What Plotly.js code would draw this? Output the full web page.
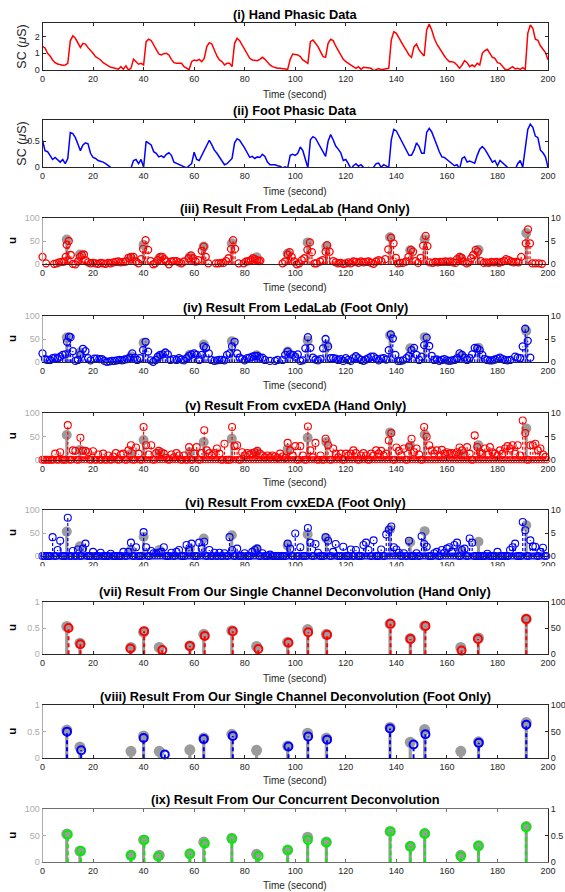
<!DOCTYPE html>
<html><head><meta charset="utf-8">
<script src="https://cdn.plot.ly/plotly-3.0.1.min.js"></script>
<style>html,body{margin:0;padding:0;background:#fff}#chart{width:565px;height:892px}</style>
</head><body><div id="chart"></div>
<script>
// ---------------- DATA ----------------
// phasic signals, sampled each second 0..200 s
const phasicTime = [...Array(201).keys()];
const handPhasic = [
1.42,1.32,1.0,0.84,0.6,0.44,0.36,0.32,0.28,0.3,0.4,1.75,2.05,1.9,1.6,1.35,1.6,1.55,1.34,1.2,1.0,
0.8,0.72,0.6,0.44,0.34,0.24,0.16,0.14,0.1,0.05,0.2,0.05,0.25,0.0,0.1,0.65,0.5,0.35,0.4,0.3,
1.7,1.85,1.77,1.5,1.16,0.96,0.9,0.98,1.0,0.9,0.64,0.44,0.4,0.38,0.4,0.2,0.1,0.02,0.5,0.6,
0.56,0.64,0.5,0.7,1.4,1.64,1.56,1.2,0.84,0.6,0.5,0.3,0.4,0.4,0.2,1.6,1.9,1.76,1.5,1.2,
0.9,0.7,0.6,0.56,0.56,0.64,0.76,0.64,0.44,0.3,0.2,0.14,0.1,0.1,0.1,0.06,0.04,0.64,0.96,0.94,
0.9,0.8,0.6,0.5,0.4,1.7,1.8,1.6,1.4,1.1,0.8,0.76,1.6,1.84,1.76,1.44,1.2,0.9,0.64,0.5,
0.4,0.3,0.2,0.1,0.2,0.04,0.16,0.14,0.14,0.1,-0.04,0.04,0.08,0.02,0.04,0.06,0.1,1.8,2.3,2.2,
1.9,1.64,1.4,1.16,0.9,0.76,1.4,1.55,1.2,1.0,0.84,2.4,2.75,2.4,1.9,1.56,1.3,1.04,0.84,0.64,
0.5,0.5,0.44,0.3,0.1,0.3,0.56,0.44,0.2,0.3,0.2,0.4,0.3,1.0,1.16,1.24,1.0,0.76,0.7,0.44,
0.4,0.24,0.04,0.0,0.1,0.2,0.06,0.1,0.04,0.14,0.04,2.2,2.7,2.5,1.85,1.78,1.45,1.25,1.05,0.62];
const footPhasic = [
0.52,0.32,0.3,0.23,0.15,0.19,0.15,0.1,0.15,0.07,0.17,0.67,0.65,0.57,0.45,0.32,0.43,0.47,0.45,0.27,0.19,
0.17,0.13,0.12,0.1,0.07,0.03,0.0,-0.05,-0.1,-0.15,-0.15,-0.12,-0.1,-0.08,-0.02,0.13,0.15,0.07,0.15,0.0,
0.5,0.47,0.43,0.3,0.27,0.2,0.22,0.19,0.25,0.28,0.23,0.1,0.08,0.05,0.03,0.02,-0.01,0.03,0.07,0.29,
0.15,0.13,0.23,0.33,0.43,0.52,0.43,0.33,0.27,0.2,0.13,0.05,0.07,0.13,0.17,0.47,0.55,0.52,0.45,0.37,
0.28,0.19,0.21,0.17,0.2,0.19,0.25,0.21,0.1,0.05,0.05,0.05,0.03,0.02,-0.01,0.01,-0.01,0.23,0.25,0.23,
0.27,0.39,0.32,0.13,-0.01,0.53,0.59,0.56,0.47,0.37,0.27,0.21,0.5,0.63,0.53,0.41,0.35,0.28,0.13,0.15,
0.07,-0.03,0.03,0.07,0.02,0.05,0.0,-0.03,0.0,-0.03,0.0,0.07,0.08,0.0,0.05,0.03,0.0,0.53,0.73,0.7,
0.6,0.5,0.4,0.3,0.23,0.23,0.33,0.47,0.4,0.27,0.27,0.67,0.75,0.68,0.57,0.43,0.3,0.2,0.19,0.15,
0.1,0.07,0.03,0.05,-0.03,0.17,0.2,0.1,0.12,0.1,0.08,0.23,0.35,0.4,0.35,0.27,0.17,0.1,0.13,0.03,
0.13,0.08,0.03,0.0,-0.03,-0.05,-0.05,0.07,0.13,0.0,0.33,0.73,0.83,0.77,0.6,0.57,0.33,0.28,0.2,0.0];

// ground-truth impulses (grey), scale 0..100
const truthTime = [9.6,14.8,35,40,46.2,58.3,63.8,74.9,84.7,97,104.9,112.3,137.5,145.5,151.2,165.5,172.5,191.4];
const truthAmp  = [53,21,13,42,13,16,38,45,15,23,47,38,58,30,54,13,31,67];

// (iii) LedaLab hand, scale 0..10
const ledaHandTime = [
0,1.4,4.6,5.6,6.6,7.6,8.6,9.2,9.6,10.4,
11.2,12,13,14,14.8,15.6,16.4,17,18,19,
20,21,22,23,24,25,26,27,28,29,
30,31,32,33,34,35,36,37,38,39,
39.8,40.8,41.8,42.8,43.8,44.6,45.6,46.6,47.4,48.2,
49,50,51,52,53,54,55,56,57.8,58.8,
59.6,60.6,61.6,63,63.8,64.6,65.6,68.6,69.6,70.6,
71.6,72.6,73.6,74.6,75.4,76.2,77.6,79.6,80.6,81.6,
82.4,83.2,84,84.8,85.6,86.2,95,96,97,97.8,
98.6,99.6,100.6,101.6,102.6,103.6,104.8,105.8,106.6,107.6,
108.4,109.8,110.8,112,112.6,113.6,115,116,117,118,
119,120,121,122,123,124,125,126,127,128,
129,130,131,132,133,134,135.6,136.8,137.9,138.9,
139.8,140.6,141.6,142.6,143.8,144.8,145.8,146.6,147.6,148.6,
149.6,150.6,151.6,152.3,153.2,154.4,155.4,156.4,157.4,158.4,
159.4,160.4,161.4,162.4,163.4,164,165,165.8,166.6,167.8,
168.6,169.6,170.4,171.4,172.2,173.4,174.6,175.6,176.6,177.6,
178.6,179.6,180.6,181.6,182.6,183.4,184.4,185.4,186.4,187.4,
188.4,189.4,191.2,192.1,192.9,193.8,195,196.4,197.6];
const ledaHandU = [
1.6,0.2,0.1,0.2,0.4,0.5,0.6,1.6,4.2,5.0,
2.0,0.1,0.0,0.6,1.6,2.0,2.1,0.9,0.4,0.2,
0.3,0.2,0.1,0.3,0.2,0.1,0.3,0.2,0.4,0.5,
0.6,0.4,0.5,0.6,1.4,1.6,1.6,0.6,0.2,1.1,
3.3,5.2,3.1,0.7,0.0,0.2,0.9,1.6,1.6,1.1,
0.6,0.0,0.6,0.7,0.7,0.4,0.2,0.6,1.3,1.9,
1.3,0.6,0.9,2.9,3.8,1.6,0.2,0.2,0.2,0.3,
0.3,0.7,1.3,3.3,5.2,3.3,0.2,0.2,0.6,0.7,
0.9,1.3,1.1,0.9,0.7,0.8,0.2,0.6,2.1,2.6,
1.6,0.6,0.0,0.2,0.9,1.3,3.1,4.7,2.6,0.2,
0.2,0.6,0.9,2.7,4.1,2.7,0.7,0.4,0.2,0.3,
0.1,0.2,0.4,0.2,0.6,0.5,0.3,0.6,0.4,0.5,
0.6,0.3,0.1,0.6,0.9,0.7,1.1,3.2,5.7,4.5,
1.4,0.2,0.3,0.3,0.6,1.6,3.1,2.7,0.7,0.3,
1.4,4.0,6.1,3.9,0.4,0.3,0.5,0.4,0.5,0.5,
0.6,0.5,0.6,0.4,0.3,1.1,1.6,1.4,0.6,0.2,
0.4,1.3,2.0,3.1,2.7,0.7,0.3,0.4,0.3,0.5,
0.4,0.5,0.3,0.5,0.7,1.1,0.9,0.6,0.4,0.5,
0.4,1.6,4.5,7.5,4.5,0.2,0.2,0.2,0.1];

// (iv) LedaLab foot, scale 0..10
const ledaFootTime = [
0,1,2,3,4,5,6,7,8,9,
9.7,10.5,11.1,12,13,14,15,16,17,18,
19,20.5,21.5,22.5,23.5,24.5,25.5,26.5,27.5,28.5,
29.5,30.5,31.5,32.5,33.5,34.5,35.5,36.5,37.5,38.5,
39.8,40.8,41.8,42.8,43.8,44.8,45.6,46.6,47.6,48.6,
49.6,50.6,52,53,54,55,56,57,58,59,
60,61,62,63,63.8,64.7,65.8,66.8,68,69,
70,71,72,73,74,75,76,77,78,79,
80,81,82,83,84,85,86,87,88,90,
92,93,95,96,97,98,99,100,101,102,
103,104,105,106,107,108,109,110,111,112,
113,114,115,116,117,118,119,120,121,122,
123,124,125,126,127,128,129,130,131,132,
133,134,135,136,137,137.8,138.6,139.6,140.6,141.6,
142.6,144,145,146,147,148,149,150,151,152,
153,154,155,156,157,158,159,160,161,162,
163,164,165,166,167,168,169,170,171,172,
173,174,175,176,177,178,179,180,181,182,
183,184,185,187,188,189,190,191,192,193];
const ledaFootU = [
1.9,0.7,0.5,0.5,0.9,1.0,0.9,1.2,1.6,1.7,
4.4,5.5,5.4,2.4,0.3,0.5,1.6,2.9,2.4,0.9,
0.4,0.8,0.8,0.7,0.7,0.3,0.1,0.2,0.3,0.3,
0.4,0.5,0.4,0.6,0.7,1.0,1.9,1.0,0.5,0.9,
2.6,4.4,2.3,0.4,0.1,0.5,1.2,1.6,1.7,2.1,
1.7,0.5,0.7,0.5,0.9,0.6,0.4,0.9,1.4,1.7,
1.9,1.6,0.5,1.6,3.4,3.1,1.9,0.5,0.3,0.4,
0.5,0.5,0.4,1.6,1.9,3.4,4.4,1.9,1.0,0.7,
0.4,0.9,1.0,1.2,1.4,1.4,1.0,1.0,0.5,0.3,
0.3,0.5,0.5,1.6,2.3,1.7,1.6,1.2,1.7,0.3,
0.4,3.0,5.4,3.1,1.0,0.6,0.4,0.7,3.0,5.0,
3.4,0.9,0.9,0.8,0.5,0.7,0.3,0.9,0.5,0.3,
0.9,1.3,0.9,0.5,0.3,0.6,0.9,1.2,1.2,0.8,
0.4,0.8,0.9,0.6,2.6,6.0,5.1,1.6,0.3,0.3,
0.4,0.9,1.4,2.6,3.1,1.6,0.5,1.2,3.7,5.3,
3.5,1.4,0.5,0.6,0.3,0.5,0.7,0.4,0.3,0.4,
0.5,0.9,1.9,1.6,1.0,0.5,0.9,1.7,3.1,3.0,
2.6,1.6,0.7,0.5,0.4,0.4,0.6,0.8,1.0,0.7,
0.5,0.4,0.5,1.2,1.0,0.9,3.4,7.2,4.6,1.0];

// (v),(vi) cvxEDA, one sample per second 0..199 s, scale 0..10
const cvxTime = [...Array(200).keys()];
const cvxHandU = [
0,0,0,0,0,1.3,0,1.6,0,0,7.4,0,2.0,1.9,0,4.7,1.9,1.9,1.6,0,
1.8,0,1.1,0,1.3,0,0.9,0,0.7,1.4,0,1.1,1.3,0,2.0,3.1,0,2.6,1.3,0,
7.0,3.1,1.1,3.1,0,1.4,1.9,1.6,1.3,0.4,0,1.1,0.5,1.4,0.9,0,0.9,0,2.7,0,
1.3,2.7,0,1.4,6.3,2.0,1.4,0.9,1.4,2.4,1.3,0,3.4,0,0,7.0,2.9,3.1,0,1.6,
0.9,1.4,1.1,1.4,1.6,1.9,1.3,0.9,0.5,0.9,0.5,0.9,0.7,0.4,1.3,0.7,0.4,3.6,2.0,0.9,
2.9,0,2.9,0.9,0,7.1,2.0,0.5,3.6,0,0.9,0,4.5,3.1,0,2.4,1.3,0.5,1.3,0,
1.3,0.9,1.3,2.0,1.4,0,0.9,1.4,0.9,0,1.3,0.9,2.0,1.3,1.9,0.9,1.3,4.1,5.7,0,
2.6,1.9,0.9,2.4,0,2.7,4.5,1.6,2.4,1.1,0,7.0,4.9,3.1,2.0,1.3,2.0,0.9,2.1,1.3,
1.6,1.3,1.4,1.1,1.6,2.6,2.0,0.9,2.7,1.3,0,5.2,2.7,1.6,1.3,2.4,1.1,2.7,1.6,1.3,
0.9,2.0,1.3,2.4,2.9,2.4,3.1,1.3,3.1,0.9,8.4,5.7,0,3.1,3.1,3.4,2.0,2.4,1.1,0.6];
const cvxFootU = [
0,0,0,0,4.1,0,1.3,3.3,0,0,8.3,0,1.1,0,1.4,0,1.6,2.7,0,0,
0.9,0,0,0.7,0,0,0,0.5,0,0,0,0,0.9,0,0.9,2.9,0,1.9,0,0,
5.2,1.9,0,1.1,0.6,0.6,0.7,0.9,1.9,0,0,0.7,0,0.9,1.3,0,0,2.4,1.3,2.7,
0,0,2.9,1.6,3.1,0,1.3,0,0.7,0,0.7,0,0.6,0,4.1,1.3,0,1.6,0,0,
0.6,0,0,0.9,1.3,1.6,0,0.6,0,0,0.3,0,0,0,0,0,0,2.7,1.6,0,
4.9,0,1.9,0,0,6.1,2.9,0,2.6,0.7,0,0,4.1,3.3,0,0.9,2.6,0,0,2.0,
0,0,1.4,0,1.3,0,0,2.4,2.9,1.3,0,3.4,0,0,1.4,0,4.7,5.7,6.4,1.9,
1.4,0.7,0,0.6,0,3.3,0,0,0.6,0,4.3,2.6,2.0,0,0,0.6,0.9,0,1.3,0.7,
1.6,1.9,0.9,2.4,2.9,0,1.3,1.6,0,3.8,2.9,0,0,0,0,0,0.5,0,0,0,
0.9,0,0,0,0,1.3,1.9,2.7,0,0,7.4,5.6,0,3.4,2.1,2.0,0,0.9,1.8,0];
// cvxEDA zero-valued samples between the whole seconds
const cvxZeroTime = [
0.5,1.5,2.5,3.5,4.5,5.5,6.5,7.5,8.5,9.5,10.5,11.5,12.5,13.5,14.5,15.5,16.5,17.5,18.5,19.5,
20.5,21.5,22.5,23.5,24.5,25.5,26.5,27.5,28.5,29.5,30.5,31.5,32.5,33.5,34.5,35.5,36.5,37.5,38.5,39.5,
40.5,41.5,42.5,43.5,44.5,45.5,46.5,47.5,48.5,49.5,50.5,51.5,52.5,53.5,54.5,55.5,56.5,57.5,58.5,59.5,
60.5,61.5,62.5,63.5,64.5,65.5,66.5,67.5,68.5,69.5,70.5,71.5,72.5,73.5,74.5,75.5,76.5,77.5,78.5,79.5,
80.5,81.5,82.5,83.5,84.5,85.5,86.5,87.5,88.5,89.5,90.5,91.5,92.5,93.5,94.5,95.5,96.5,97.5,98.5,99.5,
100.5,101.5,102.5,103.5,104.5,105.5,106.5,107.5,108.5,109.5,110.5,111.5,112.5,113.5,114.5,115.5,116.5,117.5,118.5,119.5,
120.5,121.5,122.5,123.5,124.5,125.5,126.5,127.5,128.5,129.5,130.5,131.5,132.5,133.5,134.5,135.5,136.5,137.5,138.5,139.5,
140.5,141.5,142.5,143.5,144.5,145.5,146.5,147.5,148.5,149.5,150.5,151.5,152.5,153.5,154.5,155.5,156.5,157.5,158.5,159.5,
160.5,161.5,162.5,163.5,164.5,165.5,166.5,167.5,168.5,169.5,170.5,171.5,172.5,173.5,174.5,175.5,176.5,177.5,178.5,179.5,
180.5,181.5,182.5,183.5,184.5,185.5,186.5,187.5,188.5,189.5,190.5,191.5,192.5,193.5,194.5,195.5,196.5,197.5,198.5,199.5];
const cvxZeroU = [
0,0,0,0,0,0,0,0,0,0,0,0,0,0,0,0,0,0,0,0,0,0,0,0,0,0,0,0,0,0,0,0,0,0,0,0,0,0,0,0,
0,0,0,0,0,0,0,0,0,0,0,0,0,0,0,0,0,0,0,0,0,0,0,0,0,0,0,0,0,0,0,0,0,0,0,0,0,0,0,0,
0,0,0,0,0,0,0,0,0,0,0,0,0,0,0,0,0,0,0,0,0,0,0,0,0,0,0,0,0,0,0,0,0,0,0,0,0,0,0,0,
0,0,0,0,0,0,0,0,0,0,0,0,0,0,0,0,0,0,0,0,0,0,0,0,0,0,0,0,0,0,0,0,0,0,0,0,0,0,0,0,
0,0,0,0,0,0,0,0,0,0,0,0,0,0,0,0,0,0,0,0,0,0,0,0,0,0,0,0,0,0,0,0,0,0,0,0,0,0,0,0];

// (vii) single channel hand, scale 0..100
const singleHandTime = [10.3,15,34.8,40.2,47.4,58.3,64.2,75.3,85.4,97.3,105.1,112.6,137.7,145.6,151.5,165.8,172.3,191.4];
const singleHandU    = [50,19,11,44,8,16,35,44,10,22,42,37,58,29,54,7,29,67];
// (viii) single channel foot, scale 0..100
const singleFootTime = [9.7,15.3,40,48.4,63.8,75.3,97.3,105.1,112.6,137.5,146.8,151.5,172.6,191.4];
const singleFootU    = [50,15,38,7,36,42,22,41,35,56,26,45,29,63];
// (ix) concurrent, scale 0..1
const concTime = [10,15.2,35,40.3,45.7,58.3,64.2,75,85.5,97,105,112.3,137.7,145.6,151.3,165.5,172.5,191.3];
const concU    = [0.52,0.21,0.13,0.42,0.11,0.16,0.35,0.44,0.12,0.23,0.42,0.37,0.58,0.30,0.54,0.11,0.31,0.66];

const panelTitles = [
'(i) Hand Phasic Data','(ii) Foot Phasic Data',
'(iii) Result From LedaLab (Hand Only)','(iv) Result From LedaLab (Foot Only)',
'(v) Result From cvxEDA (Hand Only)','(vi) Result From cvxEDA (Foot Only)',
'(vii) Result From Our Single Channel Deconvolution (Hand Only)',
'(viii) Result From Our Single Channel Deconvolution (Foot Only)',
'(ix) Result From Our Concurrent Deconvolution'];
const xTicks = [0,20,40,60,80,100,120,140,160,180,200];

// ---------------- LAYOUT ----------------
const W = 565, H = 892;
const FONT = '"Liberation Sans", Arial, Helvetica, sans-serif';
const INK = '#262626', LGRAY = '#ababab', TRUTH = '#9b9b9b';
const X0 = 42.5, X1 = 548;
// [top, bottom, titleY, xTitleY] in pixels
const geo = [[23.3,70,14,94.3],[120,167.3,110.7,191],[217.7,264.3,208.3,287.7],[315.7,362.3,307.3,385],
             [413,459.7,405.3,482.3],[510,556,502.3,null],[601.7,654.3,591,678.7],[705,758.3,696,780],[809,862.3,799,885]];
const py = v => 1 - v / H;
const xDom = [X0 / W, X1 / W];

const layout = {width: W, height: H, margin: {l:0,r:0,t:0,b:0}, showlegend: false,
  paper_bgcolor: '#fff', plot_bgcolor: 'rgba(0,0,0,0)', annotations: [], shapes: []};

const axCommon = {showgrid:false, zeroline:false, ticks:'inside', ticklen:3, tickwidth:1,
  showline:true, linewidth:1, fixedrange:true};

const leftSpec = [
 {range:[0,2.8], tv:[0,1,2]}, {range:[0,0.91], tv:[0,0.5]},
 {range:[0,100], tv:[0,50,100]},{range:[0,100], tv:[0,50,100]},{range:[0,100], tv:[0,50,100]},{range:[0,100], tv:[0,50,100]},
 {range:[0,1], tv:[0,0.5,1]},{range:[0,1], tv:[0,0.5,1]},{range:[0,100], tv:[0,50,100]}];
const rightSpec = [null,null,
 {range:[0,10], tv:[0,5,10]},{range:[0,10], tv:[0,5,10]},{range:[0,10], tv:[0,5,10]},{range:[0,10], tv:[0,5,10]},
 {range:[0,100], tv:[0,50,100]},{range:[0,100], tv:[0,50,100]},{range:[0,1], tv:[0,0.5,1]}];

const traces = [];
function ax(p){ return p === 0 ? '' : String(p + 1); }

const rightName = {};
let rIdx = 10;
for (let p = 0; p < 9; p++) {
  const n = ax(p);
  const [top, bot, tY, xtY] = geo[p];
  const yDom = [py(bot), py(top)];
  const xcol = p === 8 ? '#6e6e6e' : INK;
  layout['xaxis' + n] = Object.assign({}, axCommon, {
    domain: xDom, anchor: 'y' + n, range: [0, 200], tickvals: xTicks,
    tickcolor: xcol, linecolor: xcol, mirror: 'ticks',
    tickfont: {family: FONT, size: 9, color: INK}});
  const dual = rightSpec[p] !== null;
  layout['yaxis' + n] = Object.assign({}, axCommon, {
    domain: yDom, anchor: 'x' + n, range: leftSpec[p].range, tickvals: leftSpec[p].tv,
    tickcolor: dual ? LGRAY : INK, linecolor: dual ? LGRAY : INK, mirror: dual ? false : 'ticks',
    tickfont: {family: FONT, size: 9, color: dual ? LGRAY : INK}});
  // every base subplot gets an (empty) trace so that it is always built
  traces.push({type:'scatter', mode:'markers', x: [], y: [], xaxis: 'x' + n, yaxis: 'y' + n, hoverinfo:'skip'});
  if (dual) {
    rightName[p] = 'y' + rIdx;
    layout['yaxis' + rIdx] = Object.assign({}, axCommon, {
      overlaying: 'y' + n, anchor: 'x' + n, side: 'right',
      range: rightSpec[p].range, tickvals: rightSpec[p].tv,
      tickcolor: INK, linecolor: INK, tickfont: {family: FONT, size: 9, color: INK}});
    rIdx++;
  }
  layout.annotations.push({text: '<b>' + panelTitles[p] + '</b>', xref:'paper', yref:'paper',
    x: (X0 + X1) / 2 / W, y: py(tY), xanchor:'center', yanchor:'middle', showarrow:false,
    font:{family: FONT, size: 12.8, color:'#000'}});
  if (xtY !== null) layout.annotations.push({text:'Time (second)', xref:'paper', yref:'paper',
    x: (X0 + X1) / 2 / W, y: py(xtY), xanchor:'center', yanchor:'middle', showarrow:false,
    font:{family: FONT, size: 10, color: INK}});
  const yc = py((top + bot) / 2);
  if (p < 2) layout.annotations.push({text:'SC (<i>μ</i>S)', xref:'paper', yref:'paper', x: 22 / W, y: yc,
    xanchor:'center', yanchor:'middle', textangle:-90, showarrow:false, font:{family: FONT, size: 12.5, color: INK}});
  else layout.annotations.push({text:'<b>u</b>', xref:'paper', yref:'paper', x: 12 / W, y: yc,
    xanchor:'center', yanchor:'middle', textangle:-90, showarrow:false, font:{family: FONT, size: 11.5, color:'#000'}});
}
// panel (vi) tick labels are cut off by the panel below
layout.shapes.push({type:'rect', xref:'paper', yref:'paper', x0:0, x1:1, y0: py(582), y1: py(566.2),
  fillcolor:'#fff', line:{width:0}, layer:'above'});

// ---------------- TRACES ----------------
function stem(t, u, xa, ya, color, lw, dash) {
  const xs = [], ys = [];
  t.forEach((ti, i) => { xs.push(ti, ti, null); ys.push(0, u[i], null); });
  traces.push({type:'scatter', mode:'lines', x: xs, y: ys, xaxis: xa, yaxis: ya,
    line:{color, width: lw, dash: dash || 'solid'}, hoverinfo:'skip', connectgaps:false});
}
function dots(t, u, xa, ya, color, size, open, lw) {
  traces.push({type:'scatter', mode:'markers', x: t, y: u, xaxis: xa, yaxis: ya, cliponaxis:false,
    marker: open ? {symbol:'circle-open', size, color, line:{color, width: lw}} : {symbol:'circle', size, color}});
}

// (i), (ii)
traces.push({type:'scatter', mode:'lines', x: phasicTime, y: handPhasic, xaxis:'x', yaxis:'y', line:{color:'#ff0000', width:1.5}});
traces.push({type:'scatter', mode:'lines', x: phasicTime, y: footPhasic, xaxis:'x2', yaxis:'y2', line:{color:'#0000ff', width:1.5}});

const dense = [
  {p:2, t: ledaHandTime, u: ledaHandU, c:'#ff0000'},
  {p:3, t: ledaFootTime, u: ledaFootU, c:'#0000ff'},
  {p:4, t: cvxTime, u: cvxHandU, c:'#ff0000', z:true},
  {p:5, t: cvxTime, u: cvxFootU, c:'#0000ff', z:true}];
dense.forEach(d => {
  const xa = 'x' + ax(d.p), yl = 'y' + ax(d.p), yr = rightName[d.p];
  stem(truthTime, truthAmp, xa, yl, TRUTH, 3);
  dots(truthTime, truthAmp, xa, yl, TRUTH, 10, false);
  stem(d.t, d.u, xa, yr, d.c, 1.2, '3px,2px');
  if (d.z) dots(cvxZeroTime, cvxZeroU, xa, yr, d.c, 6.5, true, 0.9);
  dots(d.t, d.u, xa, yr, d.c, 7, true, d.z ? 1.1 : 1.3);
});

// (vii), (viii): truth drawn on the 0..100 right scale (same position as the 0..1 left scale)
[{p:6, t: singleHandTime, u: singleHandU, c:'#ff0000'}, {p:7, t: singleFootTime, u: singleFootU, c:'#0000ff'}].forEach(d => {
  const xa = 'x' + ax(d.p), yr = rightName[d.p];
  stem(truthTime, truthAmp, xa, yr, TRUTH, 3.2);
  dots(truthTime, truthAmp, xa, yr, TRUTH, 11, false);
  stem(d.t, d.u, xa, yr, d.c, 2, '4px,3px');
  dots(d.t, d.u, xa, yr, d.c, 8, true, 2);
});
// (ix)
stem(truthTime, truthAmp, 'x9', 'y9', TRUTH, 3.2);
dots(truthTime, truthAmp, 'x9', 'y9', TRUTH, 11, false);
stem(concTime, concU, 'x9', rightName[8], '#00ee00', 2, '4px,3px');
dots(concTime, concU, 'x9', rightName[8], '#00ee00', 8, true, 2);

Plotly.newPlot('chart', traces, layout, {staticPlot: true, displayModeBar: false});
</script>
</body></html>
